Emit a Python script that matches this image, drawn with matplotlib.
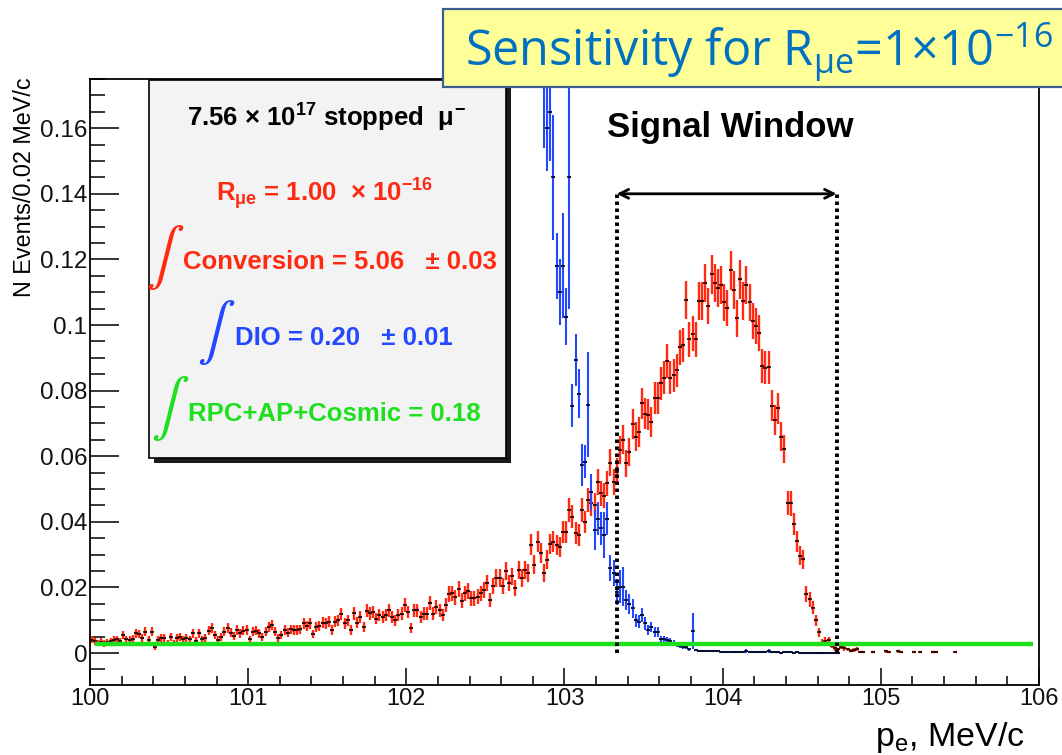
import numpy as np
import matplotlib.pyplot as plt
from matplotlib.patches import Rectangle

plt.rcParams['font.family'] = ['Liberation Sans', 'DejaVu Sans']
plt.rcParams['mathtext.fontset'] = 'custom'
plt.rcParams['mathtext.rm'] = 'Liberation Sans:bold'
plt.rcParams['mathtext.it'] = 'Liberation Sans:bold'
plt.rcParams['mathtext.bf'] = 'Liberation Sans:bold'

W, H = 1062, 755

# histogram binning (MeV/c)
P_MIN = 100.0
BIN_W = 0.02

# conversion electrons, events per bin from 100.00 MeV/c (0 = empty bin)
conv = [
    0.0040, 0.0036, 0.0030, 0.0035, 0.0029, 0.0033, 0.0036, 0.0040, 0.0042, 0.0036,
    0.0055, 0.0042, 0.0040, 0.0044, 0.0060, 0.0058, 0.0045, 0.0065, 0.0040, 0.0065,
    0.0017, 0.0040, 0.0045, 0.0046, 0.0031, 0.0050, 0.0030, 0.0045, 0.0048, 0.0042,
    0.0045, 0.0042, 0.0060, 0.0037, 0.0060, 0.0042, 0.0045, 0.0068, 0.0075, 0.0055,
    0.0040, 0.0050, 0.0065, 0.0075, 0.0062, 0.0052, 0.0070, 0.0060, 0.0068, 0.0070,
    0.0042, 0.0065, 0.0068, 0.0060, 0.0048, 0.0065, 0.0080, 0.0085, 0.0065, 0.0045,
    0.0055, 0.0070, 0.0062, 0.0072, 0.0070, 0.0070, 0.0072, 0.0090, 0.0082, 0.0090,
    0.0058, 0.0080, 0.0082, 0.0092, 0.0090, 0.0095, 0.0070, 0.0095, 0.0100, 0.0119,
    0.0090, 0.0100, 0.0070, 0.0121, 0.0092, 0.0109, 0.0080, 0.0129, 0.0121, 0.0125,
    0.0105, 0.0115, 0.0110, 0.0115, 0.0130, 0.0110, 0.0100, 0.0115, 0.0120, 0.0146,
    0.0125, 0.0077, 0.0130, 0.0130, 0.0110, 0.0120, 0.0120, 0.0152, 0.0120, 0.0140,
    0.0130, 0.0115, 0.0146, 0.0180, 0.0182, 0.0170, 0.0195, 0.0160, 0.0182, 0.0190,
    0.0167, 0.0167, 0.0172, 0.0182, 0.0192, 0.0213, 0.0162, 0.0205, 0.0229, 0.0229,
    0.0205, 0.0249, 0.0213, 0.0234, 0.0198, 0.0254, 0.0229, 0.0254, 0.0244, 0.0330,
    0.0269, 0.0339, 0.0304, 0.0243, 0.0284, 0.0332, 0.0339, 0.0329, 0.0324, 0.0370,
    0.0370, 0.0436, 0.0416, 0.0365, 0.0360, 0.0436, 0.0399, 0.0466, 0.0456, 0.0451,
    0.0522, 0.0487, 0.0480, 0.0517, 0.0580, 0.0520, 0.0553, 0.0619, 0.0650, 0.0578,
    0.0613, 0.0698, 0.0660, 0.0674, 0.0761, 0.0730, 0.0727, 0.0705, 0.0778, 0.0778,
    0.0822, 0.0839, 0.0890, 0.0839, 0.0847, 0.0862, 0.0932, 0.0939, 0.1076, 0.0956,
    0.0974, 0.0956, 0.1073, 0.1073, 0.1127, 0.1058, 0.1154, 0.1127, 0.1114, 0.1122,
    0.1069, 0.1052, 0.1167, 0.1106, 0.1020, 0.1139, 0.1073, 0.1122, 0.1069, 0.1013,
    0.0997, 0.0976, 0.0875, 0.0870, 0.0871, 0.0754, 0.0710, 0.0746, 0.0660, 0.0621,
    0.0458, 0.0456, 0.0393, 0.0341, 0.0297, 0.0286, 0.0180, 0.0164, 0.0138, 0.0100,
    0.0063, 0.0032, 0.0037, 0.0039, 0.0022, 0.0014, 0.0011, 0.0019, 0.0014, 0.0011,
    0.0007, 0.0009, 0.0013, 0.0004, 0.0002, 0, 0, 0.0003, 0, 0,
    0, 0.0005, 0.0002, 0, 0, 0.0005, 0.0002, 0, 0, 0,
    0.0002, 0, 0.0002, 0, 0, 0, 0.0002, 0.0002, 0, 0,
    0, 0, 0, 0.0002, 0,
]
CONV_W = 3e-4  # event weight, sets the statistical errors

# decay-in-orbit, starting at bin 143 (bins below are off scale)
DIO_FIRST = 143
dio = [
    0.182, 0.160, 0.165, 0.145, 0.118, 0.110, 0.118, 0.1025, 0.145, 0.0754,
    0.0893, 0.0791, 0.0573, 0.0583, 0.0757, 0.0492, 0.0375, 0.041, 0.038, 0.036,
    0.041, 0.026, 0.0245, 0.0187, 0.0202, 0.0202, 0.0161, 0.0150, 0.0136, 0.0100,
    0.0095, 0.0116, 0.0090, 0.0070, 0.0080, 0.0065, 0.0065, 0.0043, 0.0043, 0.0040,
    0.0037, 0.0031, 0.0024, 0.0021, 0.0017, 0.0017, 0.0011, 0.0067, 0.0008, 0.0007,
    0.0007, 0.0006, 0.0006, 0.0005, 0.0005, 0.0005, 0.0004, 0.0004, 0.0004, 0.0004,
    0.0003, 0.0003, 0.0003, 0.0003, 0.0006, 0.0003, 0.0002, 0.0002, 0.0002, 0.0002,
    0.0002, 0.0005, 0.0002, 0.0002, 0.0002, 0.0001, 0.0003, 0.0002, 0.0002, 0.0001,
    0.0002, 0.0001, 0.0001, 0.0001, 0.0001, 0.0001, 0.0001, 0.0001, 0.0001, 0.0001,
    0.0001, 0.0001, 0.0001, 0.0001,
]
dio_err = [
    0.028, 0.013, 0.015, 0.019, 0.010, 0.010, 0.016, 0.0087, 0.040, 0.0065,
    0.008, 0.0075, 0.0065, 0.005, 0.016, 0.0055, 0.006, 0.005, 0.005, 0.007,
    0.005, 0.004, 0.004, 0.004, 0.005, 0.006, 0.003, 0.003, 0.003, 0.002,
    0.002, 0.002, 0.002, 0.0015, 0.0015, 0.0015, 0.0015, 0.001, 0.001, 0.001,
    0.0009, 0.0008, 0.0007, 0.0007, 0.0006, 0.0006, 0.0005, 0.0055, 0.0003, 0.0003,
    0.0003, 0.0003, 0.0003, 0.0002, 0.0002, 0.0002, 0.0002, 0.0002, 0.0002, 0.0002,
    0.0002, 0.0002, 0.0002, 0.0002, 0.0006, 0.0002, 0.0002, 0.0002, 0.0002, 0.0002,
    0.0002, 0.0006, 0.0002, 0.0002, 0.0002, 0.0001, 0.0002, 0.0002, 0.0002, 0.0001,
    0.0001, 0.0001, 0.0001, 0.0001, 0.0001, 0.0001, 0.0001, 0.0001, 0.0001, 0.0001,
    0.0001, 0.0001, 0.0001, 0.0001,
]

# flat RPC + AP + cosmic background
bkg_level = 0.0028
bkg_range = (100.03, 105.96)

# signal window edges
window = (103.33, 104.72)

RED = '#ff2a12'
BLUE = '#2448ff'
GREEN = '#1ee01e'


def fpx(x, y):
    # pixel position (from top-left) -> figure fraction
    return x / W, 1 - y / H


fig = plt.figure(figsize=(W / 100, H / 100), dpi=100)
ax = fig.add_axes([90 / W, 1 - 685 / H, 949 / W, 606 / H])

conv = np.array(conv)
conv_x = P_MIN + BIN_W * (np.arange(len(conv)) + 0.5)
filled = conv > 0
conv_err = np.sqrt(conv * CONV_W)
ax.errorbar(conv_x[filled], conv[filled], yerr=conv_err[filled], xerr=BIN_W / 2,
            fmt='none', ecolor=RED, elinewidth=1.7, capsize=0, zorder=2)
ax.plot(conv_x[filled], conv[filled], ls='none', marker='_', ms=2.4, mew=1.1,
        color='black', zorder=2.2)

dio = np.array(dio)
dio_x = P_MIN + BIN_W * (np.arange(DIO_FIRST, DIO_FIRST + len(dio)) + 0.5)
ax.errorbar(dio_x, dio, yerr=dio_err, xerr=BIN_W / 2, fmt='none', ecolor=BLUE,
            elinewidth=1.5, capsize=0, zorder=2.5)
ax.plot(dio_x, dio, ls='none', marker='_', ms=2.4, mew=1.1, color='black', zorder=2.6)

ax.plot(bkg_range, [bkg_level, bkg_level], color=GREEN, lw=3.2,
        solid_capstyle='butt', zorder=3)

# signal window
for xw in window:
    ax.plot([xw, xw], [0.0, 0.14], color='black', lw=2.8, ls=(0, (0.9, 0.9)), zorder=4)
ax.annotate('', xy=(window[0], 0.14), xytext=(window[1], 0.14),
            arrowprops=dict(arrowstyle='<->', color='black', lw=2,
                            mutation_scale=16, shrinkA=0, shrinkB=0), zorder=4)
ax.text(np.mean(window) + 0.02, 0.1573, 'Signal Window', ha='center', va='baseline',
        fontsize=25, fontweight='bold')

ax.set_xlim(100, 106)
ax.set_ylim(-0.00975, 0.175)
ax.set_xticks(np.arange(100, 106.5, 1))
ax.set_xticks(np.arange(100, 106.01, 0.2), minor=True)
yt = np.arange(0, 0.161, 0.02)
ax.set_yticks(yt)
ax.set_yticklabels([f'{v:g}' for v in np.round(yt, 2)])
ax.set_yticks(np.arange(-0.005, 0.1751, 0.005), minor=True)
ax.set_xticklabels([f'{v:g}' for v in np.arange(100, 106.5, 1)])
ax.tick_params(axis='x', which='major', direction='in', length=12, width=1.1,
               labelsize=17, pad=2.5, top=False, labelcolor='#111111')
ax.tick_params(axis='x', which='minor', direction='in', length=6.5, width=1.1, top=False)
ax.tick_params(axis='y', which='major', direction='in', length=21, width=1.1,
               labelsize=17.5, pad=2, right=False, labelcolor='#111111')
ax.tick_params(axis='y', which='minor', direction='in', length=10.8, width=1.1, right=False)
for sp in ax.spines.values():
    sp.set_linewidth(1.3)

ax.text(-0.0685, 1.003, 'N Events/0.02 MeV/c', transform=ax.transAxes, rotation=90,
        ha='center', va='top', fontsize=16.8)
fig.text(*fpx(1025, 746), r'p$_{\mathregular{e}}$, MeV/c', ha='right', va='baseline',
         fontsize=24.5)

# summary pave with shadow
bx0, by0, bx1, by1 = 149, 80, 506, 458
fig.add_artist(Rectangle(fpx(bx0 + 5, by1 + 5), (bx1 - bx0) / W, (by1 - by0) / H,
                         transform=fig.transFigure, fc='#1a1a1a', ec='none', zorder=5))
fig.add_artist(Rectangle(fpx(bx0, by1), (bx1 - bx0) / W, (by1 - by0) / H,
                         transform=fig.transFigure, fc='#f3f3f3', ec='black', lw=1.2,
                         zorder=6))
fig.text(*fpx(327, 127), r'7.56 $\times$ 10$^{17}$ stopped  $\mu^{-}$', ha='center',
         va='baseline', fontsize=18.5, fontweight='bold', zorder=7)
fig.text(*fpx(325, 201), r'R$_{\mu e}$ = 1.00  $\times$ 10$^{-16}$', ha='center',
         va='baseline', fontsize=18.5, fontweight='bold', color=RED, zorder=7)

summary = [
    ('Conversion = 5.06   \u00b1 0.03', RED, 165, 183, 269),
    ('DIO = 0.20   \u00b1 0.01', BLUE, 216, 235, 345),
    ('RPC+AP+Cosmic = 0.18', GREEN, 170, 188, 421),
]
for label, col, ix, tx, base in summary:
    fig.text(*fpx(ix, base - 12), r'$\int$', ha='center', va='center', fontsize=41,
             math_fontfamily='stix', color=col, zorder=7)
    fig.text(*fpx(tx, base), label, ha='left', va='baseline', fontsize=18.5,
             fontweight='bold', color=col, zorder=7)

# headline banner
fig.add_artist(Rectangle(fpx(443, 87), (1080 - 443) / W, 78 / H,
                         transform=fig.transFigure, fc='#ffff99', ec='#3b5e8c', lw=1.6,
                         zorder=8, clip_on=False))
fig.text(*fpx(465, 65),
         'Sensitivity for R$_{\\mathregular{\u03bce}}$=1\u00d710$^{\\mathregular{\u221216}}$',
         ha='left', va='baseline', fontsize=35, family='Open Sans', weight='medium',
         color='#0070c0', zorder=9)

fig.savefig('out.png', dpi=100)
